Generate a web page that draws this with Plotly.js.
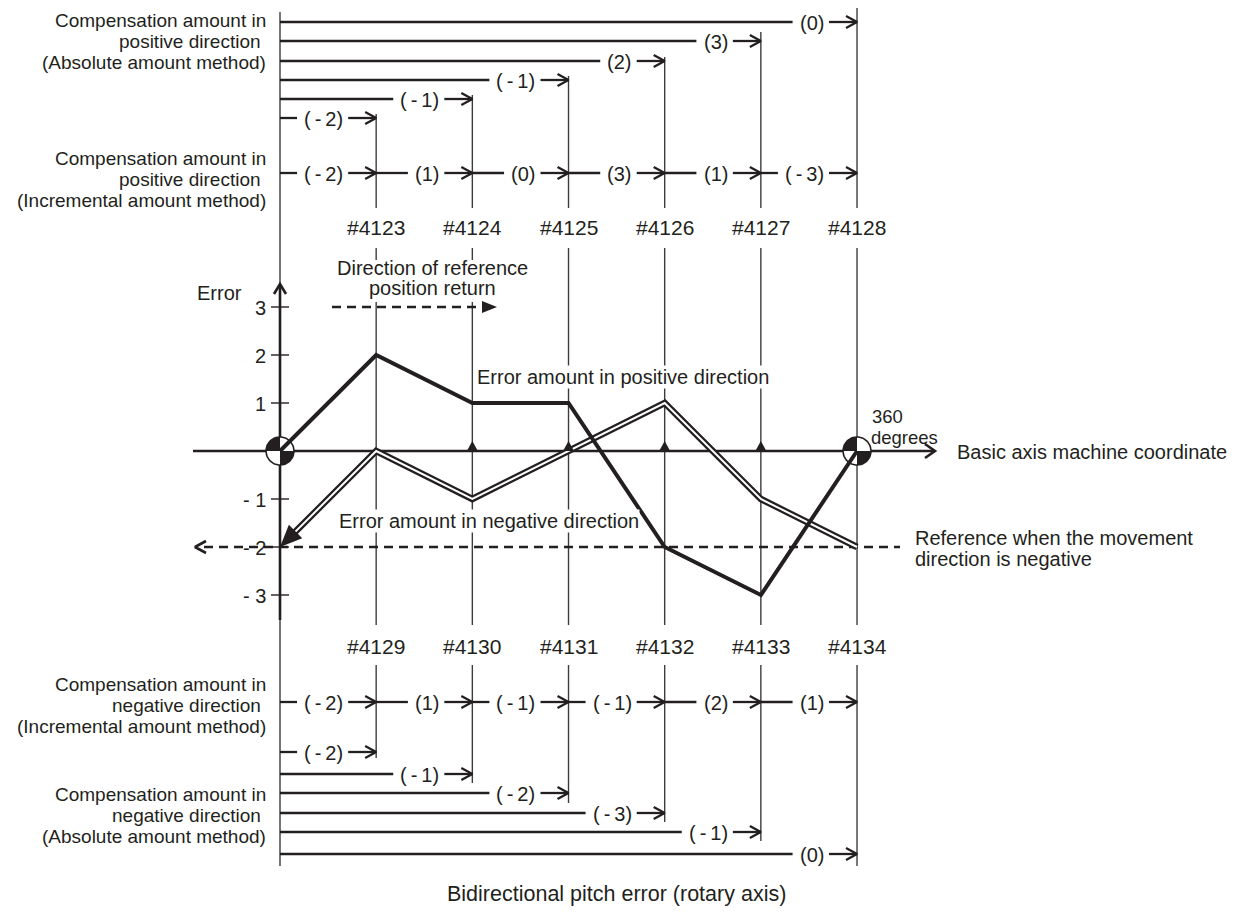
<!DOCTYPE html>
<html><head><meta charset="utf-8">
<script src="https://cdn.plot.ly/plotly-3.0.1.min.js"></script>
<style>html,body{margin:0;padding:0;background:#fff}#chart{width:1237px;height:914px}</style>
</head><body><div id="chart"></div>
<script>
// ---------------- data ----------------
const positions = [0, 1, 2, 3, 4, 5, 6];
const posErrors = [0, 2, 1, 1, -2, -3, 0];
const negErrors = [-2, 0, -1, 0, 1, -1, -2];
const posParams = ['#4123', '#4124', '#4125', '#4126', '#4127', '#4128'];
const negParams = ['#4129', '#4130', '#4131', '#4132', '#4133', '#4134'];
const posIncremental = [-2, 1, 0, 3, 1, -3];
const posAbsolute = [-2, -1, -1, 2, 3, 0];
const negIncremental = [-2, 1, -1, -1, 2, 1];
const negAbsolute = [-2, -1, -2, -3, -1, 0];
const yTicks = [3, 2, 1, -1, -2, -3];
const negReference = -2;
const returnLevel = 3;
const markerPositions = [2, 3, 4, 5];
const circlePositions = [0, 6];

// ---------------- layout constants (pixels) ----------------
const W = 1237, H = 914;
const PX0 = 280, SX = 96.17, PY0 = 451, SY = 48;
const INK = '#231f20', THIN = '#3c3c3c';
const FONT = 'Liberation Sans, Arial, Helvetica, sans-serif';
const xd = px => (px - PX0) / SX, yd = py => (PY0 - py) / SY;
const colPx = k => PX0 + k * SX, valPy = v => PY0 - v * SY;

const posAbsRowY = [118, 99, 80, 61, 41, 22];
const posIncRowY = 173;
const negIncRowY = 702;
const negAbsRowY = [752, 774, 793, 813, 832, 854];
const colTopStart = [114, 95, 76, 57, 32, 8];
const colBottomEnd = [758, 783, 803, 822, 841, 866];

const ctx = document.createElement('canvas').getContext('2d');
function textW(s, size) { ctx.font = size + 'px "Liberation Sans"'; return ctx.measureText(s).width; }
const fmt = v => v < 0 ? '(\u2009-\u2009' + (-v) + ')' : '(' + v + ')';

const groups = { thin: [], rows: [], dashed: [], ticks: [], axes: [] };
function poly(arr, pts) { arr.push(pts); }
function toTrace(arr, width, color, dash) {
  const x = [], y = [];
  arr.forEach(p => { p.forEach(q => { x.push(xd(q[0])); y.push(yd(q[1])); }); x.push(null); y.push(null); });
  return { type: 'scatter', mode: 'lines', x, y, line: { width, color, dash: dash || 'solid' }, hoverinfo: 'skip', showlegend: false };
}
function fillTrace(pts, color, lineColor, lw) {
  return { type: 'scatter', mode: 'lines', x: pts.map(p => xd(p[0])), y: pts.map(p => yd(p[1])), fill: 'toself', fillcolor: color,
    line: { width: lw || 0, color: lineColor || color }, hoverinfo: 'skip', showlegend: false };
}
const annotations = [];
function ann(text, xpx, ypx, o) {
  o = o || {};
  annotations.push({ text, x: xd(xpx), y: yd(ypx), xref: 'x', yref: 'y', showarrow: false,
    xanchor: o.xa || 'center', yanchor: 'middle', font: { family: FONT, size: o.size || 20, color: INK },
    bgcolor: o.bg || 'rgba(0,0,0,0)', borderpad: o.pad == null ? 1 : o.pad });
}
function rowArrow(startPx, tipPx, y, label) {
  const w = textW(label, 20);
  const right = tipPx - 33, left = right - w;
  if (left - 7 > startPx) poly(groups.rows, [[startPx, y], [left - 7, y]]);
  poly(groups.rows, [[right + 5, y], [tipPx, y]]);
  poly(groups.rows, [[tipPx - 11, y - 6], [tipPx, y], [tipPx - 11, y + 6]]);
  ann(label, (left + right) / 2, y + 1, { size: 20 });
}

// thin vertical lines
poly(groups.thin, [[PX0, 12], [PX0, 866]]);
for (let k = 1; k <= 6; k++) {
  const x = colPx(k);
  poly(groups.thin, [[x, colTopStart[k - 1]], [x, 208]]);
  if (k <= 2) { poly(groups.thin, [[x, 248], [x, 260]]); poly(groups.thin, [[x, 302], [x, 625]]); }
  else poly(groups.thin, [[x, 248], [x, 625]]);
  poly(groups.thin, [[x, 665], [x, colBottomEnd[k - 1]]]);
}

// compensation rows
for (let k = 1; k <= 6; k++) {
  rowArrow(PX0, colPx(k), posAbsRowY[k - 1], fmt(posAbsolute[k - 1]));
  rowArrow(colPx(k - 1), colPx(k), posIncRowY, fmt(posIncremental[k - 1]));
  rowArrow(colPx(k - 1), colPx(k), negIncRowY, fmt(negIncremental[k - 1]));
  rowArrow(PX0, colPx(k), negAbsRowY[k - 1], fmt(negAbsolute[k - 1]));
  ann(posParams[k - 1], colPx(k), 227, { size: 21 });
  ann(negParams[k - 1], colPx(k), 646, { size: 21 });
}

// dashed lines
const refY = valPy(negReference), retY = valPy(returnLevel);
poly(groups.dashed, [[204, refY], [900, refY]]);
poly(groups.dashed, [[332, retY], [480, retY]]);
poly(groups.axes, [[206, refY - 6], [195, refY], [206, refY + 6]]);

// ticks & labels
yTicks.forEach(v => {
  poly(groups.ticks, [[271, valPy(v)], [289, valPy(v)]]);
  ann(v < 0 ? '- ' + (-v) : String(v), 268, valPy(v) + 1, { xa: 'right', size: 20 });
});

// axes
poly(groups.axes, [[PX0, 620], [PX0, 284]]);
poly(groups.axes, [[PX0 - 6, 294], [PX0, 284], [PX0 + 6, 294]]);
poly(groups.axes, [[193, PY0], [934, PY0]]);
poly(groups.axes, [[925, PY0 - 7], [935, PY0], [925, PY0 + 7]]);

const traces = [];
traces.push(toTrace(groups.thin, 1.4, THIN));
traces.push(toTrace(groups.rows, 2.3, INK));
traces.push(toTrace(groups.dashed, 2.3, INK, '9px,6px'));
traces.push(toTrace(groups.ticks, 1.4, INK));
traces.push(toTrace(groups.axes, 2.6, INK));

// quartered circles
circlePositions.forEach(p => {
  const cx = colPx(p), cy = PY0, r = 14;
  const circ = [];
  for (let i = 0; i <= 64; i++) { const t = i / 64 * 2 * Math.PI; circ.push([cx + r * Math.cos(t), cy - r * Math.sin(t)]); }
  traces.push(fillTrace(circ, '#ffffff', INK, 1.6));
  [[90, 180], [270, 360]].forEach(([a0, a1]) => {
    const q = [[cx, cy]];
    for (let i = 0; i <= 16; i++) { const t = (a0 + (a1 - a0) * i / 16) * Math.PI / 180; q.push([cx + r * Math.cos(t), cy - r * Math.sin(t)]); }
    q.push([cx, cy]);
    traces.push(fillTrace(q, INK));
  });
});

// negative-direction error (double line, travelling right to left)
const negPts = positions.map((p, i) => [colPx(p), valPy(negErrors[i])]).reverse();
const tip = negPts[negPts.length - 1], prev = negPts[negPts.length - 2];
const dl = Math.hypot(prev[0] - tip[0], prev[1] - tip[1]);
const u = [(prev[0] - tip[0]) / dl, (prev[1] - tip[1]) / dl];
const negLine = negPts.slice(0, -1).concat([[tip[0] + 14 * u[0], tip[1] + 14 * u[1]]]);
traces.push({ type: 'scatter', mode: 'lines', x: negLine.map(p => xd(p[0])), y: negLine.map(p => yd(p[1])),
  line: { width: 6.5, color: INK }, hoverinfo: 'skip', showlegend: false });
traces.push({ type: 'scatter', mode: 'lines', x: negLine.map(p => xd(p[0])), y: negLine.map(p => yd(p[1])),
  line: { width: 2, color: '#ffffff' }, hoverinfo: 'skip', showlegend: false });
const B = [tip[0] + 22 * u[0], tip[1] + 22 * u[1]], n = [-u[1], u[0]];
traces.push(fillTrace([tip, [B[0] + 9.5 * n[0], B[1] + 9.5 * n[1]], [B[0] - 9.5 * n[0], B[1] - 9.5 * n[1]], tip], INK));

// positive-direction error (thick line)
traces.push({ type: 'scatter', mode: 'lines', x: positions, y: posErrors, line: { width: 4, color: INK },
  hoverinfo: 'skip', showlegend: false });

// small reference markers on the axis
markerPositions.forEach(p => {
  const x = colPx(p);
  traces.push(fillTrace([[x - 5.5, PY0], [x, PY0 - 10], [x + 5.5, PY0], [x - 5.5, PY0]], INK));
});
// direction arrow head
traces.push(fillTrace([[482, retY - 6], [497, retY], [482, retY + 6], [482, retY - 6]], INK));

// texts
const leftBlocks = [
  { lines: ['Compensation amount in', 'positive direction\u00a0', '(Absolute amount method)'], ys: [20, 41, 62] },
  { lines: ['Compensation amount in', 'positive direction\u00a0', '(Incremental amount method)'], ys: [158, 179, 200] },
  { lines: ['Compensation amount in', 'negative direction\u00a0', '(Incremental amount method)'], ys: [684, 705, 726] },
  { lines: ['Compensation amount in', 'negative direction\u00a0', '(Absolute amount method)'], ys: [794, 815, 836] }
];
leftBlocks.forEach(b => b.lines.forEach((t, i) => ann(t, 268, b.ys[i], { xa: 'right', size: 19 })));
ann('Error', 219, 293, { size: 20 });
ann('Direction of reference', 432, 268, { size: 20 });
ann('position return', 432, 288, { size: 20 });
ann('Error amount in positive direction', 623, 377, { size: 20, bg: '#ffffff', pad: 0 });
ann('Error amount in negative direction', 489, 521, { size: 20, bg: '#ffffff', pad: 0 });
ann('360', 870, 416, { xa: 'left', size: 18.5 });
ann('degrees', 869, 437, { xa: 'left', size: 18.5 });
ann('Basic axis machine coordinate', 955, 452, { xa: 'left', size: 20 });
ann('Reference when the movement', 913, 538, { xa: 'left', size: 20 });
ann('direction is negative', 913, 559, { xa: 'left', size: 20 });
ann('Bidirectional pitch error (rotary axis)', 616, 894, { size: 21.5 });

const layout = {
  width: W, height: H, margin: { l: 0, r: 0, t: 0, b: 0, pad: 0 },
  paper_bgcolor: '#ffffff', plot_bgcolor: '#ffffff', showlegend: false,
  xaxis: { range: [xd(0), xd(W)], visible: false, fixedrange: true },
  yaxis: { range: [yd(H), yd(0)], visible: false, fixedrange: true },
  annotations
};
Plotly.newPlot('chart', traces, layout, { staticPlot: true, displayModeBar: false });
</script></body></html>
